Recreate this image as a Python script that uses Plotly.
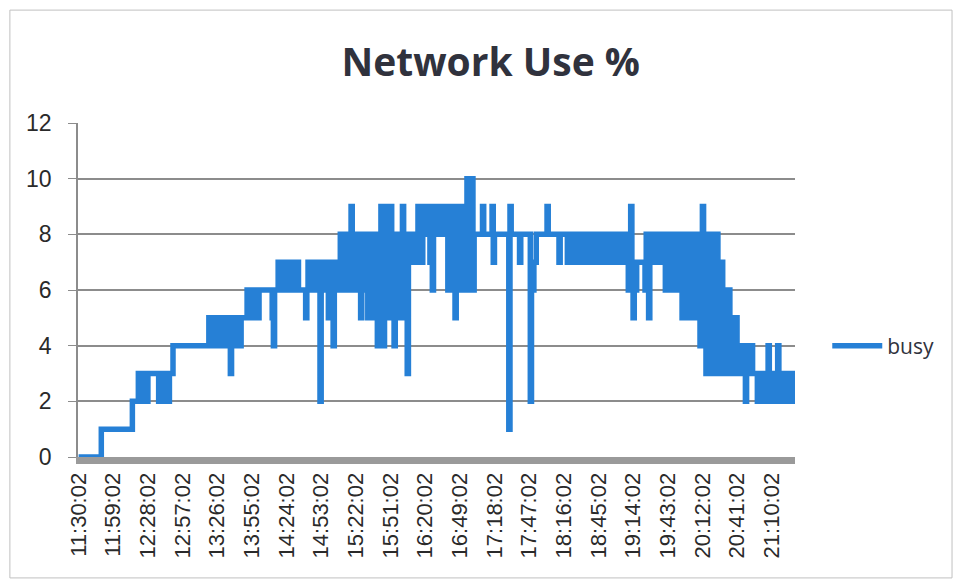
import pandas as pd
import plotly.graph_objects as go

# one reading per minute, one row per 29-minute tick interval
busy = [
    0, 0, 0, 0, 0, 0, 0, 0, 0, 0, 0, 0, 0, 0, 0, 0, 0, 0, 0, 1, 1, 1, 1, 1, 1, 1, 1, 1, 1,
    1, 1, 1, 1, 1, 1, 1, 1, 1, 1, 1, 1, 1, 1, 1, 1, 2, 2, 2, 2, 2, 3, 3, 3, 3, 2, 3, 3, 2,
    3, 3, 3, 3, 3, 3, 3, 3, 3, 2, 3, 2, 3, 2, 3, 2, 3, 2, 3, 3, 3, 4, 4, 4, 4, 4, 4, 4, 4,
    4, 4, 4, 4, 4, 4, 4, 4, 4, 4, 4, 4, 4, 4, 4, 4, 4, 4, 4, 4, 4, 4, 5, 4, 5, 4, 5, 4, 5,
    4, 5, 4, 5, 4, 5, 4, 5, 4, 5, 4, 3, 5, 4, 5, 4, 5, 4, 5, 4, 5, 5, 5, 5, 5, 6, 5, 6, 5,
    6, 5, 6, 5, 6, 5, 6, 6, 6, 6, 6, 6, 6, 6, 6, 6, 6, 5, 4, 6, 6, 6, 7, 6, 7, 6, 7, 6, 7,
    6, 7, 6, 7, 6, 7, 6, 7, 6, 7, 6, 6, 6, 6, 6, 6, 5, 6, 7, 6, 7, 6, 7, 6, 7, 6, 7, 6, 2,
    6, 7, 6, 7, 6, 7, 5, 7, 6, 7, 4, 7, 6, 7, 6, 7, 8, 6, 8, 6, 8, 7, 8, 6, 8, 9, 6, 8, 6,
    8, 6, 8, 7, 5, 8, 6, 8, 6, 8, 5, 8, 5, 8, 5, 8, 5, 8, 4, 8, 5, 9, 5, 4, 8, 9, 5, 8, 5,
    9, 5, 8, 4, 8, 5, 8, 5, 8, 5, 9, 5, 8, 5, 3, 8, 7, 8, 7, 8, 7, 8, 7, 9, 8, 9, 7, 9, 8,
    9, 8, 9, 8, 7, 8, 6, 9, 8, 9, 8, 9, 8, 9, 8, 9, 8, 9, 8, 6, 9, 6, 9, 6, 9, 5, 9, 6, 9,
    9, 6, 9, 6, 9, 6, 10, 7, 10, 6, 10, 6, 8, 8, 8, 8, 8, 8, 8, 9, 8, 8, 8, 8, 8, 8, 8, 9, 7,
    8, 8, 8, 8, 8, 8, 8, 8, 8, 8, 8, 8, 1, 9, 8, 8, 8, 8, 8, 8, 8, 7, 8, 8, 8, 8, 8, 8, 8,
    8, 2, 6, 6, 7, 7, 8, 8, 8, 8, 8, 8, 8, 8, 8, 9, 8, 8, 8, 8, 8, 8, 8, 8, 8, 7, 8, 8, 8,
    8, 8, 8, 7, 8, 7, 8, 7, 8, 7, 8, 7, 8, 7, 8, 7, 8, 7, 8, 7, 8, 7, 8, 7, 8, 7, 8, 7, 8,
    7, 8, 7, 8, 7, 8, 7, 8, 7, 8, 7, 8, 7, 8, 7, 8, 7, 8, 7, 8, 7, 8, 7, 8, 7, 6, 7, 9, 6,
    5, 7, 6, 7, 7, 7, 7, 7, 7, 7, 6, 8, 7, 5, 8, 7, 8, 7, 8, 7, 8, 7, 8, 7, 8, 7, 8, 6, 8,
    6, 8, 6, 8, 7, 8, 6, 8, 6, 8, 6, 8, 5, 8, 6, 8, 5, 8, 5, 8, 6, 8, 5, 8, 5, 8, 5, 4, 8,
    9, 4, 8, 3, 8, 3, 8, 4, 8, 3, 8, 3, 8, 3, 7, 3, 7, 3, 6, 3, 6, 3, 6, 3, 5, 3, 5, 4, 5,
    4, 3, 4, 3, 4, 3, 4, 2, 4, 3, 4, 3, 4, 3, 3, 3, 3, 2, 3, 2, 3, 2, 3, 2, 3, 2, 4, 2, 3,
    2, 3, 2, 3, 2, 4, 2, 3, 2, 3, 2, 3, 2, 3, 2, 3, 2, 3, 2, 3,
]

tick_labels = [
    "11:30:02", "11:59:02", "12:28:02", "12:57:02", "13:26:02", "13:55:02",
    "14:24:02", "14:53:02", "15:22:02", "15:51:02", "16:20:02", "16:49:02",
    "17:18:02", "17:47:02", "18:16:02", "18:45:02", "19:14:02", "19:43:02",
    "20:12:02", "20:41:02", "21:10:02",
]

times = pd.date_range("2000-01-01 11:30:02", periods=len(busy), freq="min").strftime("%H:%M:%S").tolist()

fig = go.Figure()
fig.add_trace(go.Scatter(
    x=times, y=busy,
    name="busy",
    mode="lines",
    line=dict(color="#2680d6", width=5.5, shape="hv", simplify=False),
))

# page body adds an 8px margin, so the figure is 8px smaller than the window
fig.update_layout(
    width=956, height=575,
    paper_bgcolor="white",
    plot_bgcolor="white",
    margin=dict(l=70, r=169, t=115, b=126),
    title=dict(
        text="<b>Network Use %</b>",
        x=0.505, xanchor="center",
        y=0.906, yanchor="middle",
        font=dict(family="Open Sans, Lato, sans-serif", size=39, color="#30323d"),
    ),
    legend=dict(
        x=1.045, y=0.332, xanchor="left", yanchor="middle",
        font=dict(family="Open Sans, Lato, sans-serif", size=21, color="#30323d"),
        itemwidth=50,
    ),
    showlegend=True,
    font=dict(family="Liberation Sans, Arial, sans-serif", color="#333"),
    shapes=[dict(
        type="rect", xref="paper", yref="paper",
        x0=-0.095, x1=1.219, y0=-0.362, y1=1.338,
        line=dict(color="#c0c0c0", width=1),
    )],
)

fig.update_xaxes(
    type="category",
    tickmode="array",
    tickvals=tick_labels,
    ticktext=tick_labels,
    tickangle=-90,
    tickfont=dict(size=22, color="#2a2a2a"),
    showgrid=False,
    showline=True,
    linecolor="#9a9a9a",
    linewidth=7,
    ticks="",
    layer="below traces",
    range=[-0.5, len(busy) - 0.5],
)

fig.update_yaxes(
    range=[0, 12],
    dtick=2,
    tickfont=dict(size=23, color="#2a2a2a"),
    showgrid=True,
    gridcolor="#8c8c8c",
    gridwidth=1.5,
    zeroline=False,
    showline=True,
    linecolor="#8c8c8c",
    linewidth=1.5,
    ticks="outside",
    ticklen=8,
    tickcolor="#8c8c8c",
    ticklabelstandoff=12,
    layer="below traces",
)

fig.write_html("out.html")
